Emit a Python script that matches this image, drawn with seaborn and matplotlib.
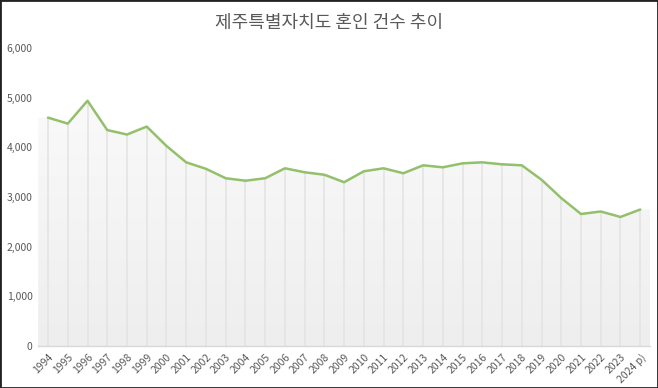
import numpy as np
import pandas as pd
import seaborn as sns
import matplotlib.pyplot as plt
from matplotlib.colors import LinearSegmentedColormap
from matplotlib.patches import Rectangle

years = ['1994', '1995', '1996', '1997', '1998', '1999', '2000', '2001', '2002', '2003',
         '2004', '2005', '2006', '2007', '2008', '2009', '2010', '2011', '2012', '2013',
         '2014', '2015', '2016', '2017', '2018', '2019', '2020', '2021', '2022', '2023',
         '2024 p)']
marriages = [4600, 4480, 4940, 4350, 4260, 4420, 4030, 3700, 3570, 3380,
             3330, 3380, 3580, 3500, 3450, 3300, 3520, 3580, 3480, 3640,
             3600, 3680, 3700, 3660, 3640, 3350, 2980, 2660, 2710, 2600,
             2750]
y_ticks = [0, 1000, 2000, 3000, 4000, 5000, 6000]

sns.set_style('white')
plt.rcParams['font.family'] = ['Noto Sans CJK KR', 'DejaVu Sans']

df = pd.DataFrame({'pos': np.arange(len(years)), 'value': marriages})
n = len(years)

fig = plt.figure(figsize=(6.58, 3.88), dpi=100)
ax = fig.add_axes([0.058, 0.108, 0.93, 0.768])

# soft gradient under the line, grey at the base fading upward
grad = np.linspace(0.0, 1.0, 256).reshape(-1, 1)
cmap = LinearSegmentedColormap.from_list('g', ['#fcfcfc', '#eeeeee'])
img = ax.imshow(grad, extent=[-0.5, n - 0.5, 0, 6000], aspect='auto',
                cmap=cmap, origin='upper', zorder=1)
area = ax.fill(np.r_[-0.5, -0.5, df['pos'], n - 0.5, n - 0.5],
               np.r_[0, df['value'].iloc[0], df['value'], df['value'].iloc[-1], 0],
               facecolor='none', edgecolor='none')[0]
img.set_clip_path(area)

ax.vlines(df['pos'], 0, df['value'], colors='#e4e4e4', linewidth=1.2, zorder=2)
sns.lineplot(data=df, x='pos', y='value', color='#93c06a', linewidth=1.8, ax=ax, zorder=3)

ax.set_xlim(-0.5, n - 0.5)
ax.set_ylim(0, 6000)
ax.set_yticks(y_ticks)
ax.set_yticklabels([f'{v:,}' for v in y_ticks], fontsize=7.5, color='#595959')
ax.set_xticks(df['pos'])
ax.set_xticklabels(years, rotation=45, ha='right', rotation_mode='anchor', fontsize=7.5, color='#595959')
ax.tick_params(axis='both', length=0, pad=4)
ax.set_xlabel('')
ax.set_ylabel('')
for s in ['top', 'right', 'left']:
    ax.spines[s].set_visible(False)
ax.spines['bottom'].set_color('#d9d9d9')
ax.spines['bottom'].set_linewidth(1)

fig.text(0.5, 0.94, '제주특별자치도 혼인 건수 추이', ha='center', va='center',
         fontsize=13, color='#595959')

fig.patches.append(Rectangle((0, 0), 1, 1, transform=fig.transFigure, fill=False,
                             edgecolor='#222222', linewidth=2))

fig.savefig('out.png', dpi=100)
